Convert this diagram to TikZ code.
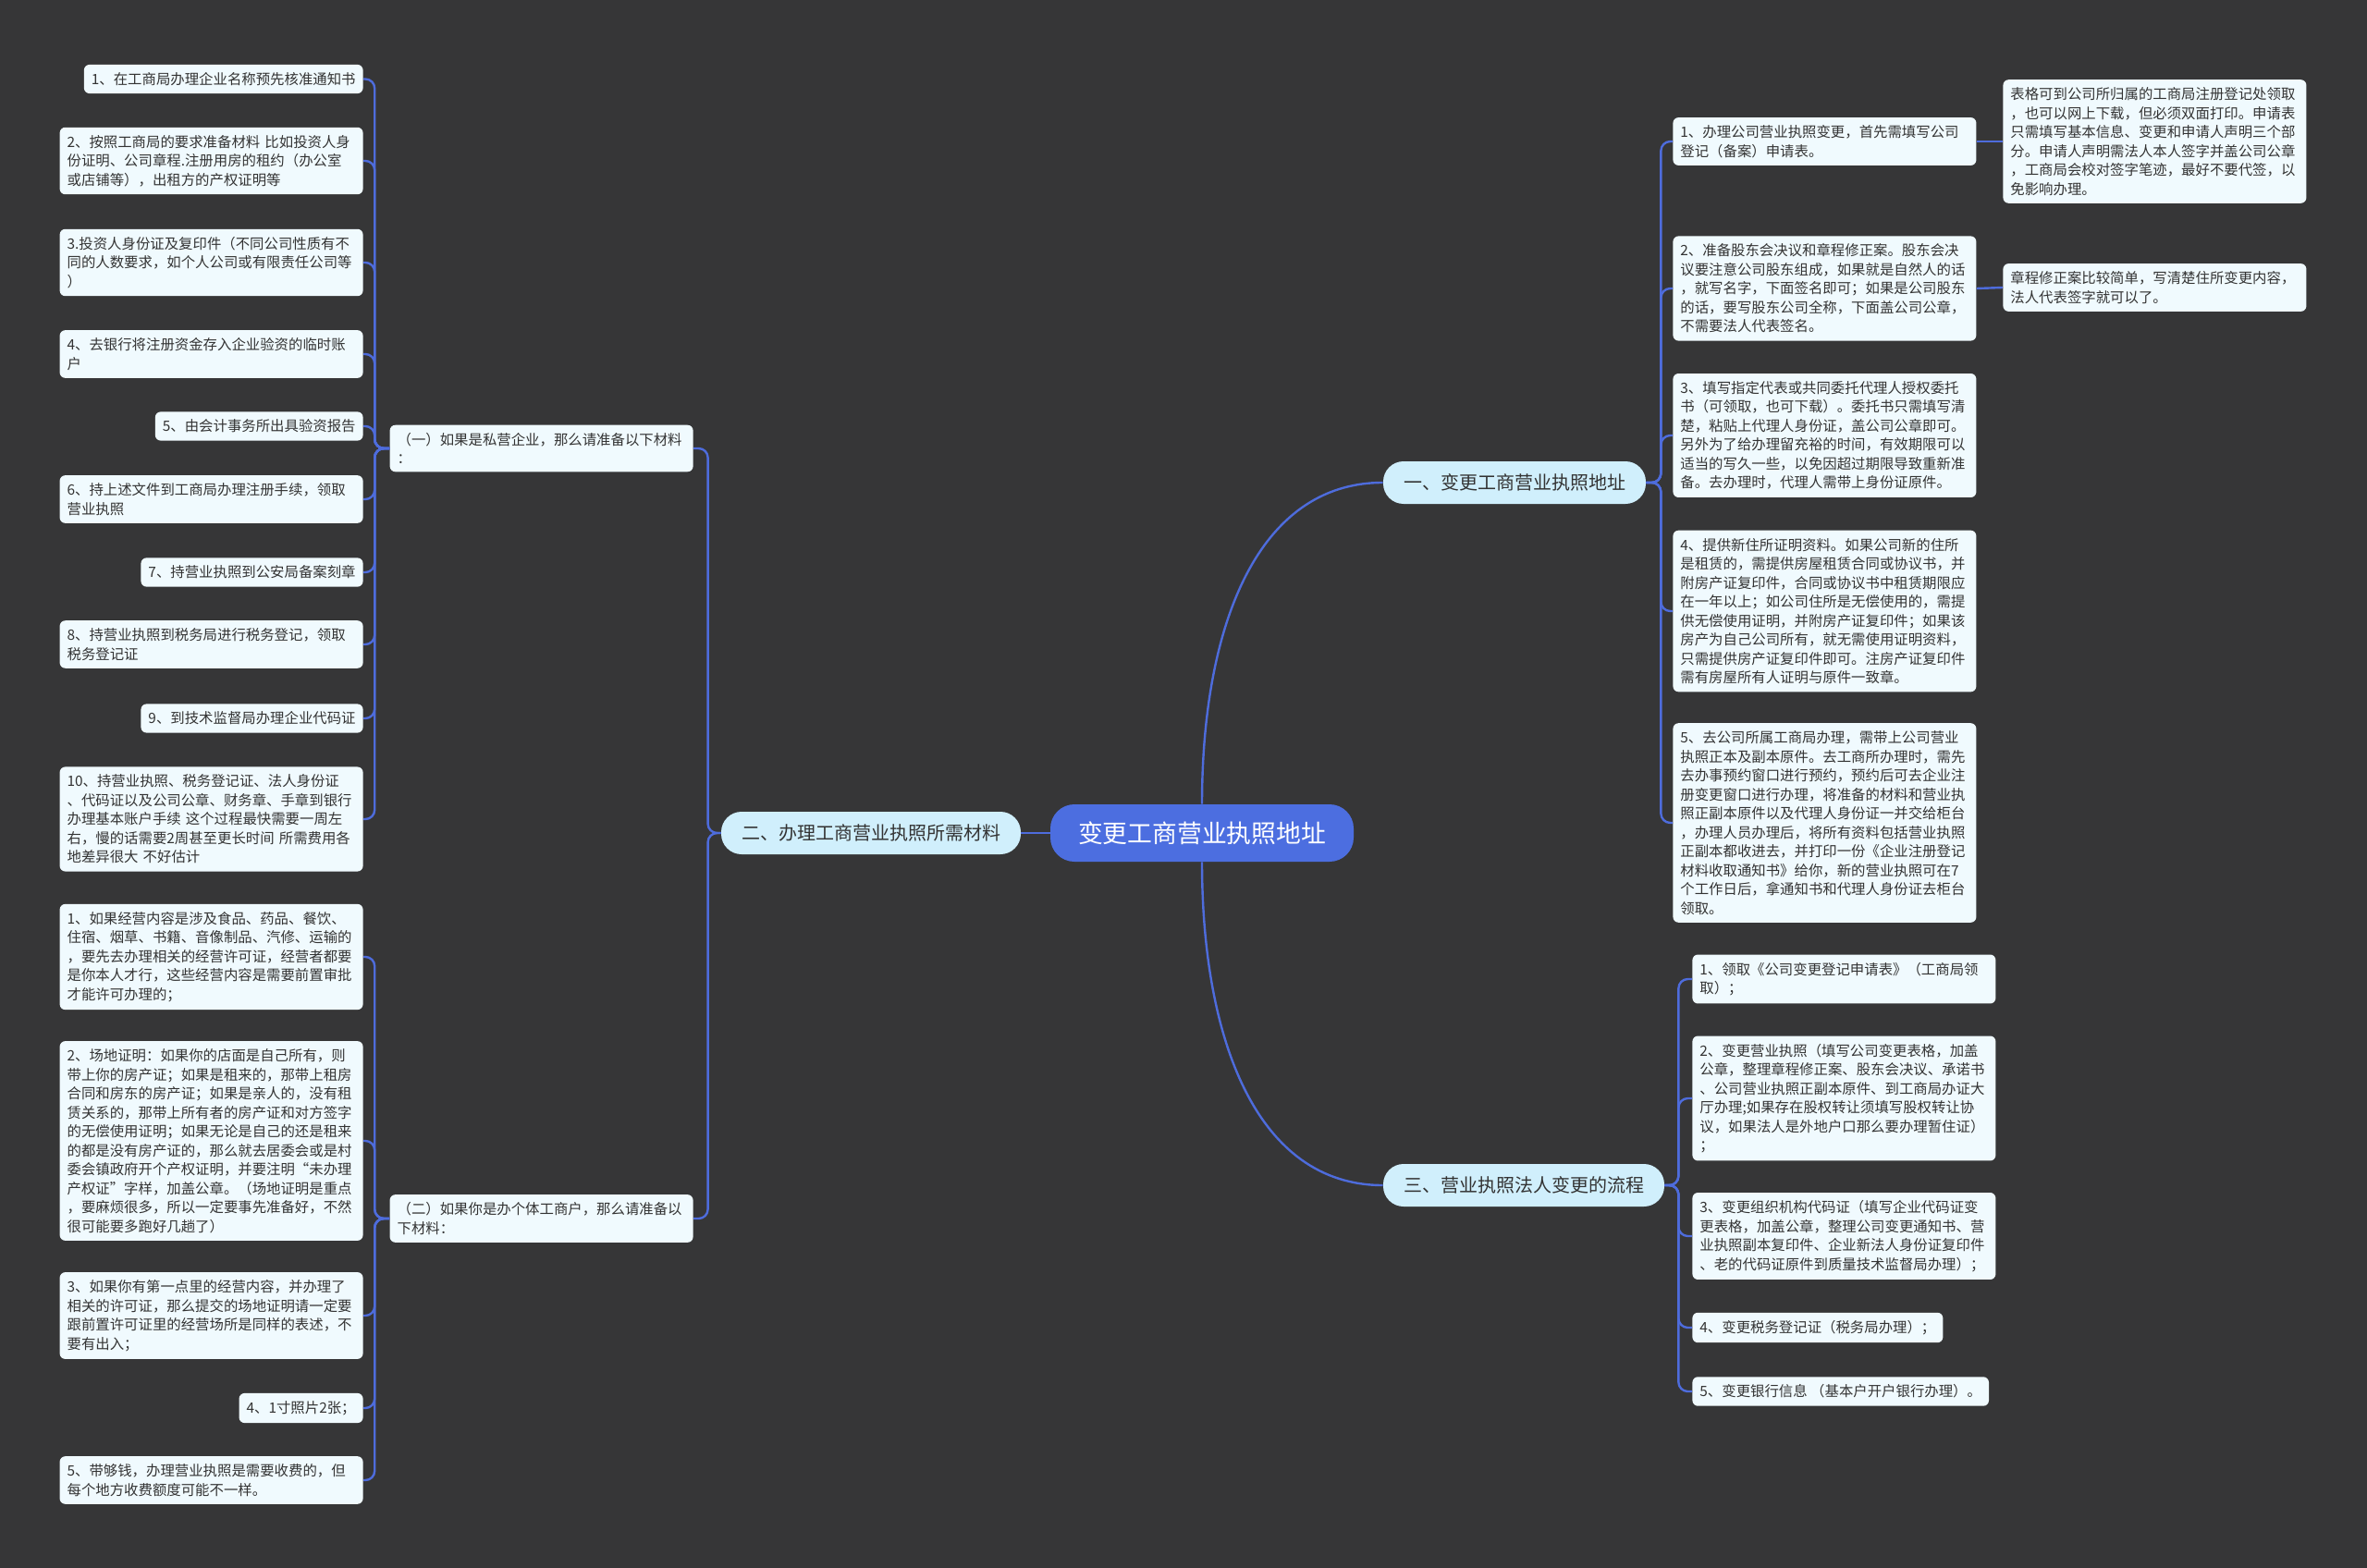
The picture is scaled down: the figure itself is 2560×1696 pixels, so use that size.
\documentclass[tikz,border=0pt]{standalone}
\usepackage{fontspec}
\setmainfont{Noto Sans CJK SC}
\definecolor{bgc}{RGB}{54,54,55}
\definecolor{rootblue}{RGB}{76,110,224}
\definecolor{linkblue}{RGB}{78,108,220}
\definecolor{branchfill}{RGB}{208,239,252}
\definecolor{leaffill}{RGB}{240,250,254}
\definecolor{txt}{RGB}{51,51,51}
\tikzset{
  leaf/.style={fill=leaffill, text=txt, rounded corners=3pt, inner xsep=4pt, inner ysep=4.2pt,
    font=\fontsize{7.7pt}{10.25pt}\selectfont},
  wide/.style={leaf, text width=156pt, align=left},
  branchnode/.style={fill=branchfill, text=txt, rounded corners=11pt, minimum height=23pt,
    inner xsep=11pt, font=\fontsize{10pt}{12pt}\selectfont},
  rootnode/.style={fill=rootblue, text=white, rounded corners=13pt, minimum height=31pt,
    inner xsep=15pt, font=\fontsize{13.4pt}{16pt}\selectfont},
  link/.style={draw=linkblue, line width=1.2pt, rounded corners=5pt}
}
\begin{document}
\begin{tikzpicture}[x=0.5pt,y=-0.5pt]
\fill[bgc] (0,0) rectangle (2560,1696);
\useasboundingbox (0,0) rectangle (2560,1696);

% root and branches
\node[rootnode] (root) at (1300,901) {变更工商营业执照地址};
\node[branchnode] (b1) at (1638,522) {一、变更工商营业执照地址};
\node[branchnode] (b2) at (942,901) {二、办理工商营业执照所需材料};
\node[branchnode] (b3) at (1648,1282) {三、营业执照法人变更的流程};

% sub-branches of 二
\node[wide, anchor=east] (s1) at (750,485) {（一）如果是私营企业，那么请准备以下材料\\：};
\node[wide, anchor=east] (s2) at (750,1318) {（二）如果你是办个体工商户，那么请准备以\\下材料：};

% private enterprise items
\node[leaf, anchor=east] (p1) at (393,85.5) {1、在工商局办理企业名称预先核准通知书};
\node[wide, anchor=east] (p2) at (393,174) {2、按照工商局的要求准备材料 比如投资人身\\份证明、公司章程.注册用房的租约（办公室\\或店铺等），出租方的产权证明等};
\node[wide, anchor=east] (p3) at (393,284) {3.投资人身份证及复印件（不同公司性质有不\\同的人数要求，如个人公司或有限责任公司等\\）};
\node[wide, anchor=east] (p4) at (393,383) {4、去银行将注册资金存入企业验资的临时账\\户};
\node[leaf, anchor=east] (p5) at (393,461) {5、由会计事务所出具验资报告};
\node[wide, anchor=east] (p6) at (393,540) {6、持上述文件到工商局办理注册手续，领取\\营业执照};
\node[leaf, anchor=east] (p7) at (393,619) {7、持营业执照到公安局备案刻章};
\node[wide, anchor=east] (p8) at (393,697) {8、持营业执照到税务局进行税务登记，领取\\税务登记证};
\node[leaf, anchor=east] (p9) at (393,777) {9、到技术监督局办理企业代码证};
\node[wide, anchor=east] (p10) at (393,886) {10、持营业执照、税务登记证、法人身份证\\、代码证以及公司公章、财务章、手章到银行\\办理基本账户手续 这个过程最快需要一周左\\右，慢的话需要2周甚至更长时间 所需费用各\\地差异很大 不好估计};

% individual business items
\node[wide, anchor=east] (q1) at (393,1035) {1、如果经营内容是涉及食品、药品、餐饮、\\住宿、烟草、书籍、音像制品、汽修、运输的\\，要先去办理相关的经营许可证，经营者都要\\是你本人才行，这些经营内容是需要前置审批\\才能许可办理的；};
\node[wide, anchor=east] (q2) at (393,1234) {2、场地证明：如果你的店面是自己所有，则\\带上你的房产证；如果是租来的，那带上租房\\合同和房东的房产证；如果是亲人的，没有租\\赁关系的，那带上所有者的房产证和对方签字\\的无偿使用证明；如果无论是自己的还是租来\\的都是没有房产证的，那么就去居委会或是村\\委会镇政府开个产权证明，并要注明“未办理\\产权证”字样，加盖公章。（场地证明是重点\\，要麻烦很多，所以一定要事先准备好，不然\\很可能要多跑好几趟了）};
\node[wide, anchor=east] (q3) at (393,1423) {3、如果你有第一点里的经营内容，并办理了\\相关的许可证，那么提交的场地证明请一定要\\跟前置许可证里的经营场所是同样的表述，不\\要有出入；};
\node[leaf, anchor=east] (q4) at (393,1523) {4、1寸照片2张；};
\node[wide, anchor=east] (q5) at (393,1601) {5、带够钱，办理营业执照是需要收费的，但\\每个地方收费额度可能不一样。};

% branch 一 items
\node[wide, anchor=west] (r1) at (1809,153) {1、办理公司营业执照变更，首先需填写公司\\登记（备案）申请表。};
\node[wide, anchor=west] (d1) at (2166,153) {表格可到公司所归属的工商局注册登记处领取\\，也可以网上下载，但必须双面打印。申请表\\只需填写基本信息、变更和申请人声明三个部\\分。申请人声明需法人本人签字并盖公司公章\\，工商局会校对签字笔迹，最好不要代签，以\\免影响办理。};
\node[wide, anchor=west] (r2) at (1809,312) {2、准备股东会决议和章程修正案。股东会决\\议要注意公司股东组成，如果就是自然人的话\\，就写名字，下面签名即可；如果是公司股东\\的话，要写股东公司全称，下面盖公司公章，\\不需要法人代表签名。};
\node[wide, anchor=west] (d2) at (2166,311) {章程修正案比较简单，写清楚住所变更内容，\\法人代表签字就可以了。};
\node[wide, anchor=west] (r3) at (1809,471) {3、填写指定代表或共同委托代理人授权委托\\书（可领取，也可下载）。委托书只需填写清\\楚，粘贴上代理人身份证，盖公司公章即可。\\另外为了给办理留充裕的时间，有效期限可以\\适当的写久一些，以免因超过期限导致重新准\\备。去办理时，代理人需带上身份证原件。};
\node[wide, anchor=west] (r4) at (1809,661) {4、提供新住所证明资料。如果公司新的住所\\是租赁的，需提供房屋租赁合同或协议书，并\\附房产证复印件，合同或协议书中租赁期限应\\在一年以上；如公司住所是无偿使用的，需提\\供无偿使用证明，并附房产证复印件；如果该\\房产为自己公司所有，就无需使用证明资料，\\只需提供房产证复印件即可。注房产证复印件\\需有房屋所有人证明与原件一致章。};
\node[wide, anchor=west] (r5) at (1809,890) {5、去公司所属工商局办理，需带上公司营业\\执照正本及副本原件。去工商所办理时，需先\\去办事预约窗口进行预约，预约后可去企业注\\册变更窗口进行办理，将准备的材料和营业执\\照正副本原件以及代理人身份证一并交给柜台\\，办理人员办理后，将所有资料包括营业执照\\正副本都收进去，并打印一份《企业注册登记\\材料收取通知书》给你，新的营业执照可在7\\个工作日后，拿通知书和代理人身份证去柜台\\领取。};

% branch 三 items
\node[wide, anchor=west] (t1) at (1830,1059) {1、领取《公司变更登记申请表》（工商局领\\取）；};
\node[wide, anchor=west] (t2) at (1830,1188) {2、变更营业执照（填写公司变更表格，加盖\\公章，整理章程修正案、股东会决议、承诺书\\、公司营业执照正副本原件、到工商局办证大\\厅办理;如果存在股权转让须填写股权转让协\\议，如果法人是外地户口那么要办理暂住证）\\；};
\node[wide, anchor=west] (t3) at (1830,1337) {3、变更组织机构代码证（填写企业代码证变\\更表格，加盖公章，整理公司变更通知书、营\\业执照副本复印件、企业新法人身份证复印件\\、老的代码证原件到质量技术监督局办理）；};
\node[leaf, anchor=west] (t4) at (1830,1436) {4、变更税务登记证（税务局办理）；};
\node[leaf, anchor=west] (t5) at (1830,1505) {5、变更银行信息 （基本户开户银行办理）。};

% connectors
\draw[link] (root.west) -- (b2.east);
\draw[link] (root.north) .. controls (1300,679) and (1359,522) .. (b1.west);
\draw[link] (root.south) .. controls (1300,1124) and (1359,1282) .. (b3.west);

\foreach \s in {s1,s2} \draw[link] (b2.west) -- ++(-14,0) |- (\s.east);
\foreach \c in {p1,p2,p3,p4,p5,p6,p7,p8,p9,p10} \draw[link] (s1.west) -- ++(-16,0) |- (\c.east);
\foreach \c in {q1,q2,q3,q4,q5} \draw[link] (s2.west) -- ++(-16,0) |- (\c.east);
\foreach \c in {r1,r2,r3,r4,r5} \draw[link] (b1.east) -- ++(16,0) |- (\c.west);
\foreach \c in {t1,t2,t3,t4,t5} \draw[link] (b3.east) -- ++(15,0) |- (\c.west);
\draw[link] (r1.east) -- (d1.west);
\draw[link] (r2.east) -- (d2.west);
\end{tikzpicture}
\end{document}
